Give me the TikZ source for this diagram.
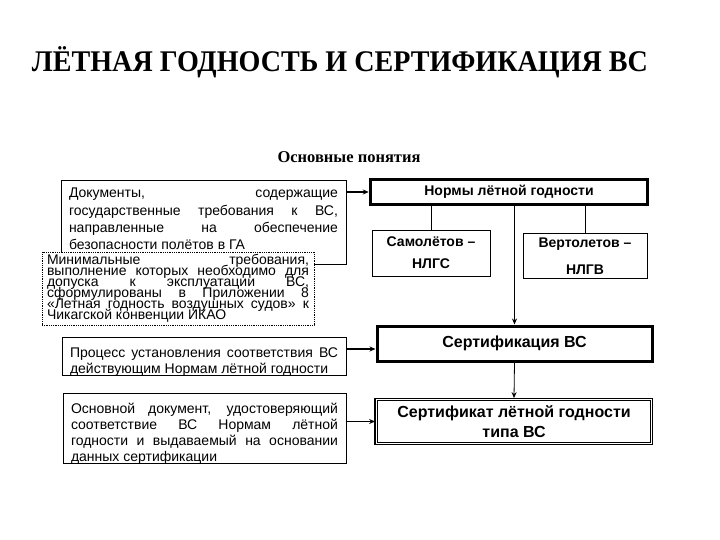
\documentclass[tikz,border=0pt]{standalone}
\usepackage{fontspec}
\setmainfont{Liberation Serif}
\setsansfont{Liberation Sans}
\newfontfamily\titlefont{Liberation Serif}
\usetikzlibrary{arrows.meta}
\newcommand\tightlines{\lineskiplimit=-20pt\relax}
\tikzset{
  textbox/.style={draw, line width=1pt, font=\sffamily\fontsize{14}{17.3}\selectfont, align=justify, inner xsep=8pt, inner ysep=1pt},
  normbox/.style={draw, font=\sffamily\bfseries\fontsize{14}{17}\selectfont, align=center},
  thickarrow/.style={line width=1.8pt, -{Stealth[length=6pt,width=5pt]}},
  thinarrow/.style={line width=0.8pt, -{Stealth[length=6pt,width=5pt]}},
}
\begin{document}
\begin{tikzpicture}[x=1pt,y=-1pt]
    \useasboundingbox (0,0) rectangle (720,540);
    % Titel und Untertitel
    \node[anchor=base, inner sep=0pt] (title) at (340,72) {\resizebox{616pt}{\height}{\titlefont\bfseries\fontsize{30}{30}\selectfont ЛЁТНАЯ ГОДНОСТЬ И СЕРТИФИКАЦИЯ ВС}};
    \node[font=\titlefont\bfseries\fontsize{16.5}{17}\selectfont] (basics) at (349,157) {Основные понятия};

    % Begriffe links
    \node[textbox, text width=269pt, text height=16pt, text depth=65pt] (docs) at (203.5,222.5) {Документы, содержащие\linebreak государственные требования к ВС,\linebreak направленные на обеспечение\linebreak безопасности полётов в ГА};
    \node[draw, densely dotted, fill=white, line width=0.8pt, font=\sffamily\fontsize{14}{11}\selectfont\tightlines, align=justify, text width=262pt, inner xsep=5pt, inner ysep=2pt, minimum height=73pt] (minreq) at (178,288.5) {Минимальные требования,\linebreak выполнение которых необходимо для\linebreak допуска к эксплуатации ВС,\linebreak сформулированы в Приложении 8\linebreak «Летная годность воздушных судов» к\linebreak Чикагской конвенции ИКАО};
    \node[textbox, text width=268pt, text height=19pt, text depth=17pt, font=\sffamily\fontsize{14}{16}\selectfont] (process) at (204,356) {Процесс установления соответствия ВС\linebreak действующим Нормам лётной годности};
    \node[textbox, text width=267pt, text height=19pt, text depth=49pt, font=\sffamily\fontsize{14}{16.3}\selectfont] (basic) at (204.5,428) {Основной документ, удостоверяющий\linebreak соответствие ВС Нормам лётной\linebreak годности и выдаваемый на основании\linebreak данных сертификации};

    % Begriffe rechts
    \node[normbox, line width=3.5pt, minimum width=277pt, minimum height=25pt] (norms) at (509,192) {Нормы лётной годности};
    \node[normbox, line width=0.8pt, font=\sffamily\bfseries\fontsize{14}{22}\selectfont, minimum width=118pt, minimum height=46pt] (planes) at (431,253) {Самолётов –\\НЛГС};
    \node[normbox, line width=0.8pt, font=\sffamily\bfseries\fontsize{14}{27}\selectfont, minimum width=124pt, minimum height=45pt] (heli) at (585,256) {Вертолетов –\\НЛГВ};
    \node[normbox, line width=3pt, font=\sffamily\bfseries\fontsize{16}{19}\selectfont, minimum width=275pt, minimum height=35pt] (certproc) at (514.5,343.5) {Сертификация ВС};
    \node[normbox, line width=0.8pt, font=\sffamily\bfseries\fontsize{16}{20}\selectfont, minimum width=277pt, minimum height=46pt] (certdoc) at (514,421.5) {Сертификат лётной годности\\типа ВС};
    \draw[line width=0.8pt] ([shift={(2.5pt,2.5pt)}]certdoc.south west) rectangle ([shift={(-2.5pt,-2.5pt)}]certdoc.north east);
    \draw[line width=2.5pt] (certdoc.south west) -- (certdoc.north west);

    % Verbindungen
    \draw[thickarrow] (docs.east |- norms.west) -- (norms.west);
    \draw[line width=0.8pt] (norms.south -| planes.north) -- (planes.north);
    \draw[line width=0.8pt] (norms.south -| heli.north) -- (heli.north);
    \draw[thinarrow] (certproc.north |- norms.south) -- (certproc.north);
    \draw[thickarrow] ([yshift=7pt]process.east) -- ([yshift=7pt]process.east -| certproc.west);
    \draw[thinarrow] (certproc.south) -- (certdoc.north);
    \draw[thickarrow] (basic.east |- certdoc.west) -- (certdoc.west);
\end{tikzpicture}
\end{document}
